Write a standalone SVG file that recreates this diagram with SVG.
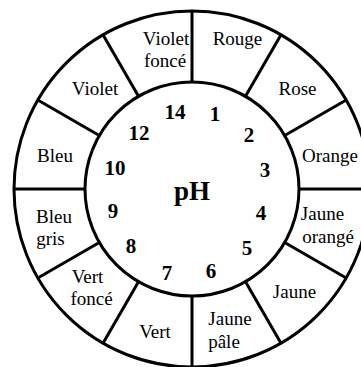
<svg xmlns="http://www.w3.org/2000/svg" width="361" height="367" viewBox="0 0 361 367">
<style>
.ring{fill:none;stroke:#000;stroke-width:3}
.div{stroke:#000;stroke-width:3;stroke-linecap:butt}
.lab{font-family:"Liberation Serif","Times New Roman",serif;font-size:19px;fill:#000;text-anchor:middle}
.num{font-family:"Liberation Serif","Times New Roman",serif;font-size:21px;font-weight:bold;fill:#000;text-anchor:middle}
.ph{font-family:"Liberation Serif","Times New Roman",serif;font-size:27px;font-weight:bold;fill:#000;text-anchor:middle}
</style>
<rect width="361" height="367" fill="#fff"/>
<g id="rings">
<circle class="ring" cx="192" cy="189" r="178"/>
<circle class="ring" cx="192" cy="189" r="107"/>
</g>
<g id="connectors">
<line class="div" x1="192" y1="82" x2="192" y2="11"/>
<line class="div" x1="245.5" y1="96.3" x2="281" y2="34.8"/>
<line class="div" x1="284.7" y1="135.5" x2="346.2" y2="100"/>
<line class="div" x1="299" y1="189" x2="370" y2="189"/>
<line class="div" x1="284.7" y1="242.5" x2="346.2" y2="278"/>
<line class="div" x1="245.5" y1="281.7" x2="281" y2="343.2"/>
<line class="div" x1="192" y1="296" x2="192" y2="367"/>
<line class="div" x1="138.5" y1="281.7" x2="103" y2="343.2"/>
<line class="div" x1="99.3" y1="242.5" x2="37.8" y2="278"/>
<line class="div" x1="85" y1="189" x2="14" y2="189"/>
<line class="div" x1="99.3" y1="135.5" x2="37.8" y2="100"/>
<line class="div" x1="138.5" y1="96.3" x2="103" y2="34.8"/>
</g>
<g id="seg-violet-fonce"><text class="lab" x="166" y="45">Violet</text><text class="lab" x="165" y="67">foncé</text></g>
<g id="seg-rouge"><text class="lab" x="237.5" y="45">Rouge</text></g>
<g id="seg-rose"><text class="lab" x="297.5" y="95">Rose</text></g>
<g id="seg-orange"><text class="lab" x="330" y="162">Orange</text></g>
<g id="seg-jaune-orange"><text class="lab" x="322.5" y="220">Jaune</text><text class="lab" x="328" y="243">orangé</text></g>
<g id="seg-jaune"><text class="lab" x="294.5" y="298">Jaune</text></g>
<g id="seg-jaune-pale"><text class="lab" x="230" y="325">Jaune</text><text class="lab" x="224" y="348">pâle</text></g>
<g id="seg-vert"><text class="lab" x="155" y="338">Vert</text></g>
<g id="seg-vert-fonce"><text class="lab" x="87.5" y="283">Vert</text><text class="lab" x="91.5" y="305">foncé</text></g>
<g id="seg-bleu-gris"><text class="lab" x="54" y="223">Bleu</text><text class="lab" x="50.5" y="245">gris</text></g>
<g id="seg-bleu"><text class="lab" x="55" y="162">Bleu</text></g>
<g id="seg-violet"><text class="lab" x="95" y="95">Violet</text></g>
<g id="center">
<text class="ph" x="192" y="200">pH</text>
<text class="num" x="175" y="119">14</text>
<text class="num" x="215" y="121">1</text>
<text class="num" x="139" y="140">12</text>
<text class="num" x="249" y="142">2</text>
<text class="num" x="115" y="175">10</text>
<text class="num" x="265" y="177">3</text>
<text class="num" x="113" y="218">9</text>
<text class="num" x="261" y="220">4</text>
<text class="num" x="131" y="253">8</text>
<text class="num" x="247" y="255">5</text>
<text class="num" x="167" y="280">7</text>
<text class="num" x="211" y="278">6</text>
</g>
</svg>
